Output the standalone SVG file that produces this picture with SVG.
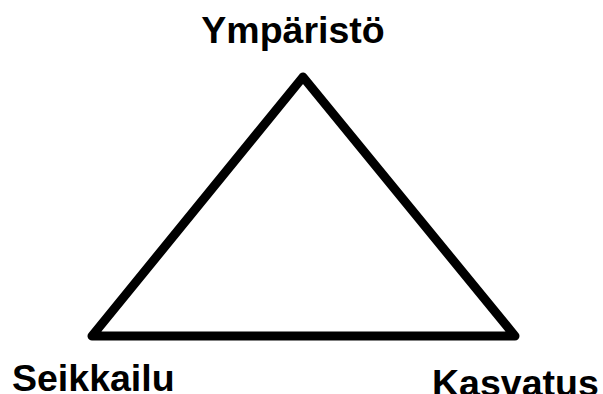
<svg xmlns="http://www.w3.org/2000/svg" width="603" height="394" viewBox="0 0 603 394">
<style>
.lbl{font-family:"Liberation Sans",Arial,sans-serif;font-weight:bold;font-size:37.5px;fill:#000}
.edge{fill:none;stroke:#000;stroke-width:9;stroke-linejoin:round}
</style>
<rect width="603" height="394" fill="#fff"/>
<g id="connectors">
<polygon class="edge" points="303,77 92,336 515,336"/>
</g>
<g id="node-ymparisto"><text class="lbl" x="293" y="43" text-anchor="middle">Ympäristö</text></g>
<g id="node-seikkailu"><text class="lbl" x="12" y="391">Seikkailu</text></g>
<g id="node-kasvatus"><text class="lbl" x="432" y="396">Kasvatus</text></g>
</svg>
